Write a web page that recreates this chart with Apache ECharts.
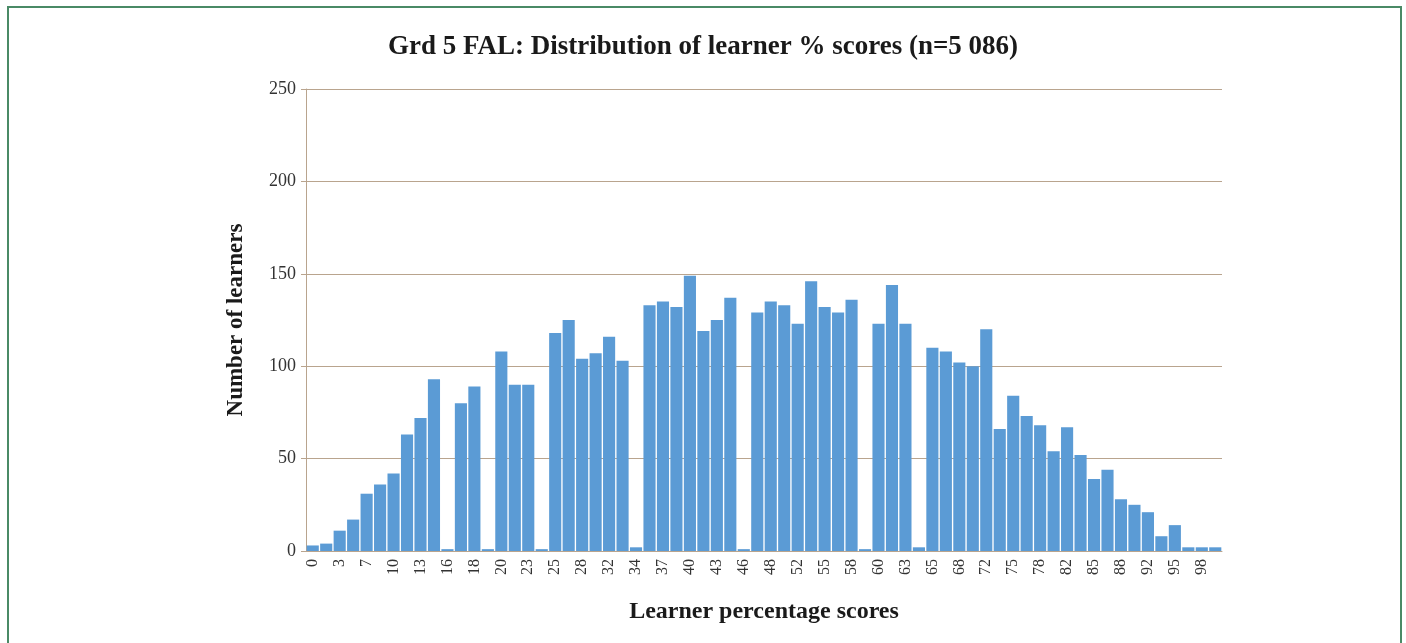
<!DOCTYPE html>
<html>
<head>
<meta charset="utf-8">
<script src="https://cdn.jsdelivr.net/npm/echarts@6/dist/echarts.min.js"></script>
<style>
html,body{margin:0;padding:0;background:#fff;}
#chart{width:1406px;height:643px;}
</style>
</head>
<body>
<div id="chart"></div>
<script>
// percentage score categories (only every other one is labelled)
var scores = ['0','2','3','5','7','8','10','12','13','15','16','17','18','19','20','22','23','24','25','27',
    '28','30','32','33','34','35','37','38','40','42','43','45','46','47','48','50','52','53','55','57',
    '58','59','60','62','63','64','65','67','68','70','72','73','75','77','78','80','82','83','85','87',
    '88','90','92','93','95','97','98','100'];
// number of learners per score
var learners = [3,4,11,17,31,36,42,63,72,93,1,80,89,1,108,90,90,1,118,125,
    104,107,116,103,2,133,135,132,149,119,125,137,1,129,135,133,123,146,132,129,
    136,1,123,144,123,2,110,108,102,100,120,66,84,73,68,54,67,52,39,44,
    28,25,21,8,14,2,2,2];
var yTicks = [0,50,100,150,200,250];

var chart = echarts.init(document.getElementById('chart'));
var serif = '"Liberation Serif", "DejaVu Serif", serif';
var tan = '#b9a48e';

var option = {
    animation:false,
    title:{
        text:'Grd 5 FAL: Distribution of learner % scores (n=5 086)',
        left:'center',
        top:29,
        textStyle:{fontFamily:serif,fontSize:27,fontWeight:'bold',color:'#1a1a1a'}
    },
    graphic:[{
        type:'rect',
        shape:{x:8,y:7,width:1393,height:700},
        style:{fill:'none',stroke:'#4a8a66',lineWidth:2}
    }],
    grid:{left:306,right:184,top:89,bottom:92},
    xAxis:{
        type:'category',
        data:scores,
        name:'Learner percentage scores',
        nameLocation:'middle',
        nameGap:49,
        nameTextStyle:{fontFamily:serif,fontSize:24,fontWeight:'bold',color:'#1a1a1a'},
        axisLine:{lineStyle:{color:tan}},
        axisTick:{interval:0,length:5,lineStyle:{color:tan}},
        axisLabel:{interval:1,rotate:90,fontFamily:serif,fontSize:16,color:'#333',margin:8}
    },
    yAxis:{
        type:'value',
        min:0,
        max:yTicks[yTicks.length-1],
        interval:50,
        name:'Number of learners',
        nameLocation:'middle',
        nameGap:58,
        nameTextStyle:{fontFamily:serif,fontSize:23,fontWeight:'bold',color:'#1a1a1a'},
        axisLine:{show:true,lineStyle:{color:tan}},
        axisTick:{show:true,length:5,lineStyle:{color:tan}},
        axisLabel:{fontFamily:serif,fontSize:18,color:'#333',margin:10},
        splitLine:{lineStyle:{color:tan,width:1}}
    },
    series:[{
        type:'bar',
        data:learners,
        barCategoryGap:'10%',
        itemStyle:{color:'#5b9bd5'}
    }]
};
chart.setOption(option);
</script>
</body>
</html>
